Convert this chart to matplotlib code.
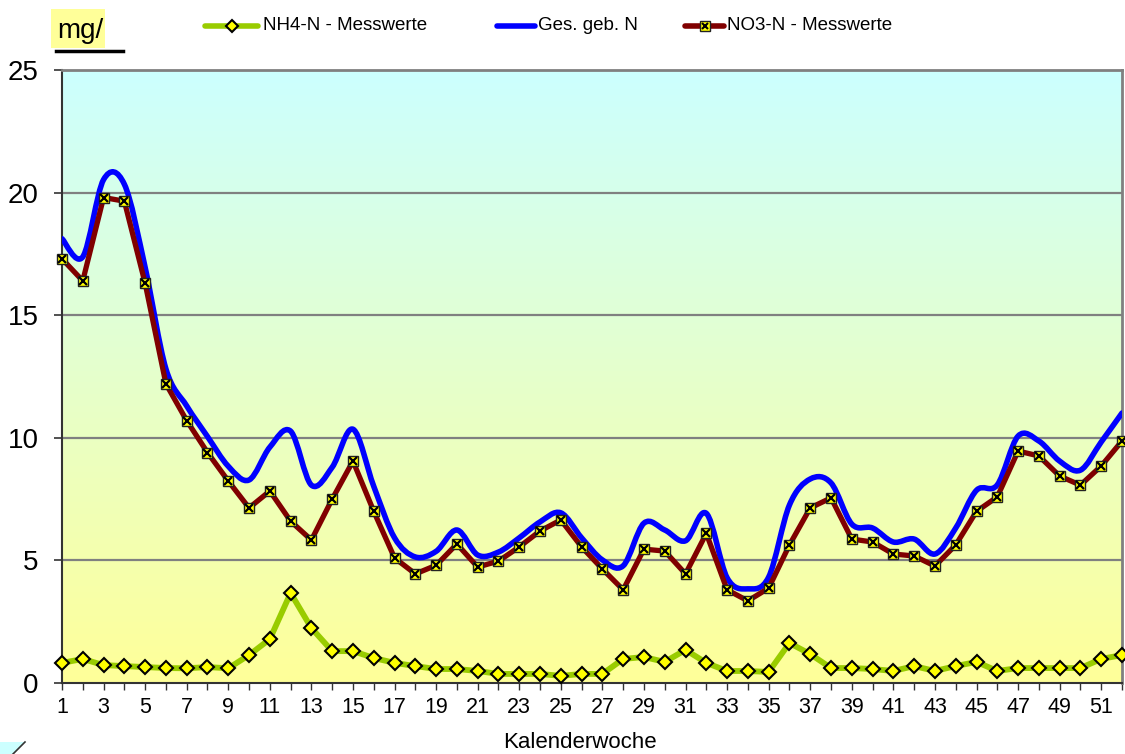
import numpy as np
import matplotlib
matplotlib.use("Agg")
import matplotlib.pyplot as plt
from matplotlib.path import Path
from matplotlib.patches import PathPatch, Polygon, Rectangle
from matplotlib.lines import Line2D
from matplotlib.ticker import MultipleLocator

plt.rcParams['font.family'] = ['Liberation Sans', 'DejaVu Sans']

weeks = list(range(1, 53))
nh4 = [0.82, 0.98, 0.73, 0.69, 0.65, 0.61, 0.60, 0.65, 0.60, 1.14,
       1.79, 3.67, 2.24, 1.30, 1.30, 1.02, 0.82, 0.69, 0.57, 0.57,
       0.49, 0.37, 0.37, 0.37, 0.29, 0.37, 0.37, 0.98, 1.06, 0.86,
       1.35, 0.82, 0.49, 0.49, 0.45, 1.63, 1.18, 0.61, 0.61, 0.57,
       0.49, 0.69, 0.49, 0.69, 0.86, 0.49, 0.61, 0.61, 0.61, 0.61,
       0.98, 1.14]
no3 = [17.30, 16.40, 19.80, 19.65, 16.30, 12.20, 10.70, 9.40, 8.24, 7.14,
       7.83, 6.60, 5.83, 7.50, 9.05, 7.00, 5.10, 4.45, 4.80, 5.67,
       4.73, 4.97, 5.55, 6.20, 6.65, 5.55, 4.65, 3.80, 5.46, 5.38,
       4.45, 6.10, 3.80, 3.35, 3.87, 5.63, 7.14, 7.55, 5.87, 5.75,
       5.26, 5.18, 4.77, 5.63, 7.00, 7.59, 9.46, 9.26, 8.44, 8.07,
       8.85, 9.87]
ges = [18.12, 17.38, 20.53, 20.34, 16.95, 12.81, 11.30, 10.05, 8.84, 8.28,
       9.62, 10.27, 8.07, 8.80, 10.35, 8.02, 5.92, 5.14, 5.37, 6.24,
       5.22, 5.34, 5.92, 6.57, 6.94, 5.92, 5.02, 4.78, 6.52, 6.24,
       5.80, 6.92, 4.29, 3.84, 4.32, 7.26, 8.32, 8.16, 6.48, 6.32,
       5.75, 5.87, 5.26, 6.32, 7.86, 8.08, 10.07, 9.87, 9.05, 8.68,
       9.83, 11.01]

y_ticks = [0, 5, 10, 15, 20, 25]
x_labels = list(range(1, 53, 2))
legend_labels = ["NH4-N - Messwerte", "Ges. geb. N", "NO3-N - Messwerte"]
xlabel = "Kalenderwoche"
unit_label = "mg/"

W, H = 1125, 754
fig = plt.figure(figsize=(W / 100, H / 100), dpi=100)
ax = fig.add_axes([62 / W, 1 - 683 / H, (1122 - 62) / W, (683 - 70) / H])

# gradient background
top = np.array([0xCC, 0xFF, 0xFF]) / 255
bot = np.array([0xFF, 0xFF, 0x99]) / 255
t = np.linspace(0, 1, 256)[:, None]
grad = (top * (1 - t) + bot * t)[:, None, :]
ax.imshow(grad, extent=[1, 52, 0, 25], aspect='auto', zorder=0, interpolation='bilinear')

ax.set_xlim(1, 52)
ax.set_ylim(0, 25)
ax.set_yticks(y_ticks)
ax.set_xticks(x_labels)
ax.xaxis.set_minor_locator(MultipleLocator(1))
ax.tick_params(axis='y', length=6, width=1.2, labelsize=20, pad=11, color='#333333')
ax.tick_params(axis='x', which='both', length=5, width=1.0, labelsize=15.5, pad=5, color='#333333')
for yv in y_ticks[1:-1]:
    ax.axhline(yv, color='#808080', lw=1.6, zorder=1)
ax.spines['top'].set_color('#808080')
ax.spines['top'].set_linewidth(2)
ax.spines['right'].set_color('#808080')
ax.spines['right'].set_linewidth(2)
ax.spines['left'].set_color('#333333')
ax.spines['left'].set_linewidth(1.5)
ax.spines['bottom'].set_color('#333333')
ax.spines['bottom'].set_linewidth(1.5)


def smooth_path(xs, ys):
    pts = np.column_stack([xs, ys]).astype(float)
    n = len(pts)
    verts = [pts[0]]
    codes = [Path.MOVETO]
    for i in range(n - 1):
        p0 = pts[i - 1] if i > 0 else pts[i]
        p1 = pts[i]
        p2 = pts[i + 1]
        p3 = pts[i + 2] if i + 2 < n else pts[i + 1]
        c1 = p1 + (p2 - p0) / 6
        c2 = p2 - (p3 - p1) / 6
        verts += [c1, c2, p2]
        codes += [Path.CURVE4] * 3
    return Path(verts, codes)


green = '#99CC00'
blue = '#0000FF'
dred = '#800000'
yel = '#FFFF00'

ax.plot(weeks, nh4, color=green, lw=4.2, marker='D', ms=7.5, mfc=yel, mec='black',
        mew=1.5, zorder=3, clip_on=False)
ax.add_patch(PathPatch(smooth_path(weeks, ges), fill=False, edgecolor=blue, lw=4.0,
                       zorder=4, capstyle='round', joinstyle='round'))
ax.plot(weeks, no3, color=dred, lw=3.8, zorder=5, clip_on=False)
ax.plot(weeks, no3, ls='none', marker='s', ms=7.8, mfc=yel, mec='#222222', mew=1.0,
        zorder=6, clip_on=False)
ax.plot(weeks, no3, ls='none', marker='x', ms=6, mec='black', mew=1.6, zorder=7,
        clip_on=False)

fig.text(580 / W, 1 - 742 / H, xlabel, ha='center', va='center', fontsize=16)

# unit label
fig.add_artist(Rectangle((51 / W, 1 - 48 / H), 54 / W, 39 / H, transform=fig.transFigure,
                         facecolor='#FFFF99', edgecolor='none', zorder=1))
fig.text(80 / W, 1 - 31 / H, unit_label, ha='center', va='center', fontsize=20, zorder=2)
fig.add_artist(Line2D([56 / W, 123 / W], [1 - 51 / H, 1 - 51 / H], transform=fig.transFigure,
                      color='black', lw=2.5, zorder=2))

# legend
ly = 1 - 26 / H
entries = [(205, 258, 263, green, 'D'), (497, 535, 538, blue, None), (685, 724, 727, dred, 's')]
for (x0, x1, tx, col, mk), lab in zip(entries, legend_labels):
    fig.add_artist(Line2D([x0 / W, x1 / W], [ly, ly], transform=fig.transFigure,
                          color=col, lw=4.0, solid_capstyle='round'))
    if mk == 'D':
        fig.add_artist(Line2D([(x0 + x1) / 2 / W], [ly], transform=fig.transFigure,
                              marker='D', ms=6.5, mfc=yel, mec='black', mew=1.5))
    elif mk == 's':
        fig.add_artist(Line2D([(x0 + x1) / 2 / W], [ly], transform=fig.transFigure,
                              marker='s', ms=6.5, mfc=yel, mec='#222222', mew=1.0))
        fig.add_artist(Line2D([(x0 + x1) / 2 / W], [ly], transform=fig.transFigure,
                              marker='x', ms=5, mec='black', mew=1.5))
    fig.text(tx / W, ly, lab, ha='left', va='center', fontsize=13.5)

# small shape at bottom-left
fig.add_artist(Polygon([(0, 1 - 742 / H), (25 / W, 1 - 742 / H), (13 / W, 0), (0, 0)],
                       closed=True, transform=fig.transFigure, facecolor='#CCFFFF',
                       edgecolor='none'))
fig.add_artist(Line2D([25 / W, 13 / W], [1 - 742 / H, 0], transform=fig.transFigure,
                      color='#333333', lw=1.2))

fig.savefig('out.png', dpi=100)
